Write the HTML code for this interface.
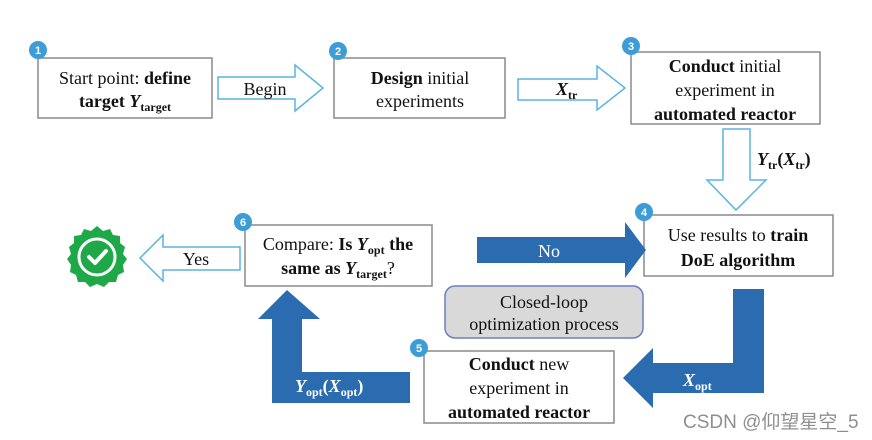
<!DOCTYPE html>
<html><head><meta charset="utf-8"><style>
html,body{margin:0;padding:0;background:#fff}
svg{display:block}
text{font-family:"Liberation Serif",serif;font-size:18px;fill:#111}
.b{font-weight:bold}
.badge text{font-family:"Liberation Sans",sans-serif;font-size:11px;fill:#fff;font-weight:bold}
</style></head><body>
<svg width="872" height="440" viewBox="0 0 872 440" xmlns="http://www.w3.org/2000/svg">
<g fill="#fff" stroke="#8a8a8a" stroke-width="1.5">
<rect x="38" y="58" width="174" height="60"/>
<rect x="334" y="58" width="171" height="60"/>
<rect x="631" y="52" width="189" height="72"/>
<rect x="644" y="215" width="189" height="61"/>
<rect x="245" y="225" width="187" height="61"/>
<rect x="424" y="351" width="190" height="72"/>
</g>
<g fill="#fff" stroke="#5ab4e0" stroke-width="1.5">
<path d="M218 77 H295 V65 L323 88 L295 111 V99 H218 Z"/>
<path d="M518 79 H597 V66 L625 88 L597 110 V100 H518 Z"/>
<path d="M723 129 H750 V180 H766 L736 210 L707 180 H723 Z"/>
<path d="M240 247 H163 V235 L140 258 L163 281 V270 H240 Z"/>
</g>
<g fill="#2b6cb0">
<path d="M477 237 H625 V222 L646 250 L625 278 V263 H477 Z"/>
<path d="M733 289 H764 V393 H653 V408 L623 378 L653 348 V363 H733 Z"/>
<path d="M272 403 V319 H258 L287 290 L320 319 H302 V372 H410 V403 Z"/>
</g>
<rect x="445" y="286" width="198" height="52" rx="10" fill="#d9d9d9" stroke="#6b7fc0" stroke-width="1.5"/>
<text x="544" y="308" text-anchor="middle" font-size="16">Closed-loop</text>
<text x="544" y="330" text-anchor="middle" font-size="16">optimization  process</text>
<g class="badge">
<circle cx="38" cy="50" r="9" fill="#3d9dd6"/><text x="38" y="54" text-anchor="middle">1</text>
<circle cx="338" cy="51" r="9" fill="#3d9dd6"/><text x="338" y="55" text-anchor="middle">2</text>
<circle cx="631" cy="46" r="9" fill="#3d9dd6"/><text x="631" y="50" text-anchor="middle">3</text>
<circle cx="644" cy="212" r="9" fill="#3d9dd6"/><text x="644" y="216" text-anchor="middle">4</text>
<circle cx="419" cy="348" r="9" fill="#3d9dd6"/><text x="419" y="352" text-anchor="middle">5</text>
<circle cx="243" cy="222" r="9" fill="#3d9dd6"/><text x="243" y="226" text-anchor="middle">6</text>
</g>
<text x="125" y="84" text-anchor="middle">Start point: <tspan class="b">define</tspan></text>
<text x="125" y="107" text-anchor="middle" class="b">target <tspan font-style="italic">Y</tspan><tspan font-size="12" dy="4">target</tspan></text>
<text x="420" y="84" text-anchor="middle"><tspan class="b">Design</tspan> initial</text>
<text x="420" y="107" text-anchor="middle">experiments</text>
<text x="725" y="72" text-anchor="middle"><tspan class="b">Conduct</tspan> initial</text>
<text x="725" y="96" text-anchor="middle">experiment in</text>
<text x="725" y="120" text-anchor="middle" class="b">automated reactor</text>
<text x="738" y="241" text-anchor="middle">Use results to <tspan class="b">train</tspan></text>
<text x="738" y="266" text-anchor="middle" class="b">DoE algorithm</text>
<text x="338" y="250" text-anchor="middle">Compare: <tspan class="b">Is <tspan font-style="italic">Y</tspan><tspan font-size="12" dy="4">opt</tspan><tspan dy="-4"> the</tspan></tspan></text>
<text x="338" y="274" text-anchor="middle" class="b">same as <tspan font-style="italic">Y</tspan><tspan font-size="12" dy="4">target</tspan><tspan dy="-4" font-weight="normal">?</tspan></text>
<text x="519" y="370" text-anchor="middle"><tspan class="b">Conduct</tspan> new</text>
<text x="519" y="394" text-anchor="middle">experiment in</text>
<text x="519" y="418" text-anchor="middle" class="b">automated reactor</text>
<text x="265" y="95" text-anchor="middle">Begin</text>
<text x="556" y="95" class="b" font-style="italic">X<tspan font-size="12" dy="4" font-style="normal">tr</tspan></text>
<text x="757" y="165" class="b"><tspan font-style="italic">Y</tspan><tspan font-size="12" dy="4">tr</tspan><tspan dy="-4">(</tspan><tspan font-style="italic">X</tspan><tspan font-size="12" dy="4">tr</tspan><tspan dy="-4">)</tspan></text>
<text x="196" y="265" text-anchor="middle">Yes</text>
<text x="549" y="257" text-anchor="middle" style="fill:#fff">No</text>
<text x="683" y="386" class="b" style="fill:#fff" font-style="italic">X<tspan font-size="12" dy="4" font-style="normal">opt</tspan></text>
<text x="295" y="392" class="b" style="fill:#fff"><tspan font-style="italic">Y</tspan><tspan font-size="12" dy="4">opt</tspan><tspan dy="-4">(</tspan><tspan font-style="italic">X</tspan><tspan font-size="12" dy="4">opt</tspan><tspan dy="-4">)</tspan></text>
<g transform="translate(97,257)">
<polygon fill="#1fa847" points="0,-31 6,-26 13,-28 16,-22 23,-21 23,-14 28,-10 26,-3 30,2 26,8 27,15 21,18 19,25 12,25 7,30 0,27 -7,30 -12,25 -19,25 -21,18 -27,15 -26,8 -30,2 -26,-3 -28,-10 -23,-14 -23,-21 -16,-22 -13,-28 -6,-26"/>
<circle r="18" fill="none" stroke="#fff" stroke-width="3"/>
<path d="M-8 0 L-2 6 L9 -6" fill="none" stroke="#fff" stroke-width="4" stroke-linecap="round" stroke-linejoin="round"/>
</g>
<text x="683" y="428" style="font-family:'Liberation Sans','Noto Sans CJK SC',sans-serif;font-size:19px;fill:#8f8f8f">CSDN @仰望星空_5</text>
</svg>
</body></html>
